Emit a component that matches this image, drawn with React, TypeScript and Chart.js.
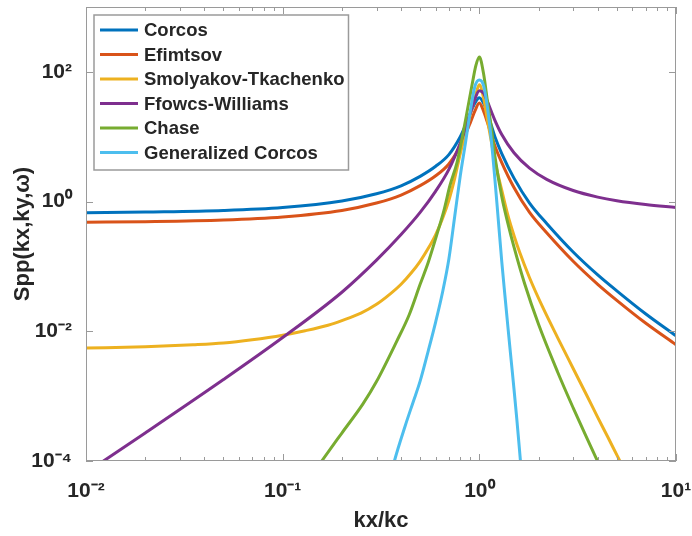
import React, { useEffect, useRef } from "react";
import { Chart, registerables } from "chart.js";

Chart.register(...registerables);

const seriesNames = [
  "Corcos",
  "Efimtsov",
  "Smolyakov-Tkachenko",
  "Ffowcs-Williams",
  "Chase",
  "Generalized Corcos",
];
const seriesColors = ["#0072BD", "#D95319", "#EDB120", "#7E2F8E", "#77AC30", "#4DBEEE"];

const xTickValues = [0.01, 0.1, 1, 10];
const xTickLabels = ["10⁻²", "10⁻¹", "10⁰", "10¹"];
const yTickValues = [1e-4, 1e-2, 1, 100];
const yTickLabels = ["10⁻⁴", "10⁻²", "10⁰", "10²"];

const corcosX = [0.01, 0.02, 0.05, 0.1, 0.2, 0.3, 0.4, 0.5, 0.6, 0.7, 0.8, 0.85, 0.9, 0.95, 1.0, 1.05, 1.1, 1.15, 1.2, 1.3, 1.5, 1.8, 2.2, 3, 4, 5, 7, 10];
const corcosY = [0.67, 0.69, 0.73, 0.81, 1.02, 1.32, 1.75, 2.45, 3.5, 5.3, 10, 15, 23, 33, 40, 33, 23, 15, 10, 5.5, 2.3, 0.95, 0.46, 0.167, 0.074, 0.042, 0.0186, 0.0085];

const efimtsovX = [0.01, 0.02, 0.05, 0.1, 0.2, 0.3, 0.4, 0.5, 0.6, 0.7, 0.8, 0.85, 0.9, 0.95, 1.0, 1.05, 1.1, 1.15, 1.2, 1.3, 1.5, 1.8, 2.2, 3, 4, 5, 7, 10];
const efimtsovY = [0.48, 0.49, 0.52, 0.58, 0.73, 0.95, 1.26, 1.76, 2.5, 3.8, 7.2, 10.8, 16.5, 25, 33, 25, 16.5, 10.8, 7.2, 4.0, 1.65, 0.68, 0.33, 0.12, 0.053, 0.030, 0.0134, 0.0062];

const smolyakovX = [0.01, 0.02, 0.035, 0.05, 0.07, 0.1, 0.13, 0.17, 0.2, 0.25, 0.3, 0.35, 0.4, 0.45, 0.5, 0.55, 0.6, 0.65, 0.7, 0.75, 0.8, 0.85, 0.9, 0.95, 1.0, 1.05, 1.1, 1.15, 1.2, 1.3, 1.4, 1.5, 1.6, 1.8, 2.1, 2.5, 3, 3.5, 4, 4.5, 5, 5.5];
const smolyakovY = [0.0055, 0.0058, 0.0062, 0.0066, 0.0074, 0.0087, 0.0102, 0.0124, 0.0146, 0.019, 0.026, 0.037, 0.053, 0.079, 0.12, 0.19, 0.31, 0.55, 1.05, 2.3, 5.5, 11, 22, 40, 63, 40, 18, 8.5, 4.2, 1.5, 0.6, 0.3, 0.168, 0.067, 0.0235, 0.008, 0.00267, 0.00106, 0.00047, 0.000234, 0.000124, 0.00007];

const ffowcsX = [0.01, 0.02, 0.05, 0.1, 0.2, 0.3, 0.4, 0.5, 0.6, 0.7, 0.8, 0.85, 0.9, 0.95, 1.0, 1.05, 1.1, 1.15, 1.2, 1.3, 1.5, 1.8, 2.2, 3, 4, 5, 7, 10];
const ffowcsY = [0.000066, 0.00027, 0.0018, 0.008, 0.04, 0.125, 0.31, 0.68, 1.45, 3.14, 7.97, 13.4, 23.2, 38.4, 51, 46.9, 34.7, 24.6, 17.9, 10.8, 5.65, 3.27, 2.2, 1.48, 1.17, 1.03, 0.9, 0.81];

const chaseX = [0.15, 0.158, 0.2, 0.256, 0.3, 0.38, 0.44, 0.5, 0.55, 0.608, 0.66, 0.71, 0.77, 0.82, 0.87, 0.92, 0.96, 1.0, 1.05, 1.1, 1.15, 1.2, 1.3, 1.4, 1.5, 1.7, 2.0, 2.5, 3, 3.5, 4, 4.5];
const chaseY = [0.00008, 0.0001, 0.00027, 0.00076, 0.00168, 0.007, 0.018, 0.053, 0.116, 0.31, 0.72, 1.8, 4.0, 10, 26, 65, 125, 170, 95, 35, 14, 5, 1.2, 0.45, 0.2, 0.054, 0.0128, 0.00236, 0.00066, 0.000235, 0.000098, 0.000046];

const genCorcosX = [0.35, 0.37, 0.42, 0.46, 0.5, 0.55, 0.6, 0.65, 0.7, 0.75, 0.8, 0.85, 0.9, 0.95, 1.0, 1.05, 1.1, 1.15, 1.2, 1.25, 1.3, 1.35, 1.4, 1.45, 1.5, 1.55, 1.6, 1.65];
const genCorcosY = [0.00005, 0.0001, 0.00035, 0.0008, 0.0017, 0.005, 0.014, 0.04, 0.13, 0.6, 2.5, 8, 25, 60, 75, 62, 28, 9, 2.2, 0.5, 0.12, 0.035, 0.011, 0.0037, 0.0013, 0.00045, 0.00015, 0.00005];

const seriesX = [corcosX, efimtsovX, smolyakovX, ffowcsX, chaseX, genCorcosX];
const seriesY = [corcosY, efimtsovY, smolyakovY, ffowcsY, chaseY, genCorcosY];

const FONT = "'Liberation Sans', Arial, Helvetica, sans-serif";
const TEXT_COLOR = "#262626";
const AXIS_COLOR = "#9a9a9a";

const framePlugin = {
  id: "frame",
  afterDatasetsDraw(chart: any) {
    const { ctx, chartArea: a, scales } = chart;
    const xs = scales.x;
    const ys = scales.y;
    ctx.save();
    ctx.strokeStyle = AXIS_COLOR;
    ctx.lineWidth = 1;
    ctx.strokeRect(a.left + 0.5, a.top + 0.5, a.right - a.left - 1, a.bottom - a.top - 1);
    ctx.beginPath();
    for (let d = -2; d <= 1; d++) {
      for (let m = 1; m <= 9; m++) {
        const v = m * Math.pow(10, d);
        if (v > 10.0001) break;
        const px = Math.round(xs.getPixelForValue(v)) + 0.5;
        const len = m === 1 ? 7 : 4;
        ctx.moveTo(px, a.bottom);
        ctx.lineTo(px, a.bottom - len);
        ctx.moveTo(px, a.top);
        ctx.lineTo(px, a.top + len);
      }
    }
    for (const v of yTickValues) {
      const py = Math.round(ys.getPixelForValue(v)) + 0.5;
      ctx.moveTo(a.left, py);
      ctx.lineTo(a.left + 7, py);
      ctx.moveTo(a.right, py);
      ctx.lineTo(a.right - 7, py);
    }
    ctx.stroke();
    ctx.restore();
  },
};

const legendPlugin = {
  id: "boxLegend",
  afterDraw(chart: any) {
    const { ctx, chartArea: a } = chart;
    ctx.save();
    ctx.font = `bold 18.5px ${FONT}`;
    let maxW = 0;
    for (const n of seriesNames) maxW = Math.max(maxW, ctx.measureText(n).width);
    const x0 = a.left + 8;
    const y0 = a.top + 8;
    const rowH = 24.5;
    const w = 50 + maxW + 4;
    const h = rowH * seriesNames.length + 8;
    ctx.fillStyle = "#ffffff";
    ctx.fillRect(x0, y0, w, h);
    ctx.strokeStyle = AXIS_COLOR;
    ctx.lineWidth = 1.5;
    ctx.strokeRect(x0, y0, w, h);
    ctx.textBaseline = "middle";
    ctx.textAlign = "left";
    seriesNames.forEach((n, i) => {
      const cy = y0 + 15 + i * rowH;
      ctx.strokeStyle = seriesColors[i];
      ctx.lineWidth = 3;
      ctx.beginPath();
      ctx.moveTo(x0 + 6, cy);
      ctx.lineTo(x0 + 44, cy);
      ctx.stroke();
      ctx.fillStyle = TEXT_COLOR;
      ctx.fillText(n, x0 + 50, cy + 1);
    });
    ctx.restore();
  },
};

export default function App() {
  const canvasRef = useRef<HTMLCanvasElement | null>(null);

  useEffect(() => {
    if (!canvasRef.current) return;
    const datasets = seriesNames.map((name, i) => ({
      label: name,
      data: seriesX[i].map((x, j) => ({ x, y: seriesY[i][j] })),
      borderColor: seriesColors[i],
      backgroundColor: seriesColors[i],
      borderWidth: 3,
      pointRadius: 0,
      fill: false,
      cubicInterpolationMode: "monotone" as const,
      order: seriesNames.length - i,
    }));

    const chart = new Chart(canvasRef.current, {
      type: "line",
      data: { datasets },
      options: {
        animation: false,
        responsive: false,
        maintainAspectRatio: false,
        layout: { padding: { left: 8, right: 16, top: 7, bottom: 0 } },
        plugins: {
          legend: { display: false },
          tooltip: { enabled: false },
        },
        scales: {
          x: {
            type: "logarithmic",
            min: 0.01,
            max: 10,
            afterBuildTicks: (scale: any) => {
              scale.ticks = xTickValues.map((v) => ({ value: v }));
            },
            afterFit: (scale: any) => {
              scale.height = 75;
              scale.paddingLeft = 0;
              scale.paddingRight = 0;
            },
            grid: { display: false },
            border: { display: false },
            ticks: {
              autoSkip: false,
              maxRotation: 0,
              padding: 10,
              color: TEXT_COLOR,
              font: { family: FONT, size: 21, weight: "bold" },
              callback: (v: any) => {
                const idx = xTickValues.findIndex((t) => Math.abs(t - Number(v)) / t < 1e-6);
                return idx >= 0 ? xTickLabels[idx] : "";
              },
            },
            title: {
              display: true,
              text: "kx/kc",
              color: TEXT_COLOR,
              font: { family: FONT, size: 22, weight: "bold" },
              padding: { top: 0, bottom: 2 },
            },
          },
          y: {
            type: "logarithmic",
            min: 1e-4,
            max: 1e3,
            afterBuildTicks: (scale: any) => {
              scale.ticks = yTickValues.map((v) => ({ value: v }));
            },
            afterFit: (scale: any) => {
              scale.width = 78;
              scale.paddingTop = 0;
              scale.paddingBottom = 0;
            },
            grid: { display: false },
            border: { display: false },
            ticks: {
              autoSkip: false,
              padding: 6,
              color: TEXT_COLOR,
              font: { family: FONT, size: 21, weight: "bold" },
              callback: (v: any) => {
                const idx = yTickValues.findIndex((t) => Math.abs(t - Number(v)) / t < 1e-6);
                return idx >= 0 ? yTickLabels[idx] : "";
              },
            },
            title: {
              display: true,
              text: "Spp(kx,ky,ω)",
              color: TEXT_COLOR,
              font: { family: FONT, size: 22, weight: "bold" },
              padding: { top: 2, bottom: 0 },
            },
          },
        },
      },
      plugins: [framePlugin, legendPlugin],
    });
    return () => chart.destroy();
  }, []);

  return (
    <div style={{ position: "absolute", left: 0, top: 0, width: 692, height: 536, background: "#ffffff" }}>
      <canvas ref={canvasRef} width={692} height={536} style={{ display: "block", width: 692, height: 536 }} />
    </div>
  );
}
